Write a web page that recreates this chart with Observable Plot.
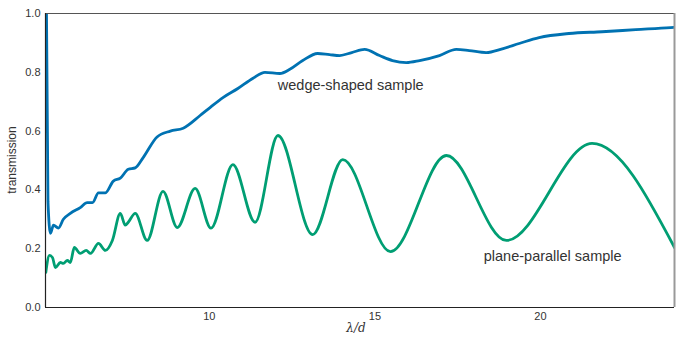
<!DOCTYPE html>
<html>
<head>
<meta charset="utf-8">
<script src="https://cdn.jsdelivr.net/npm/d3@7"></script>
<script src="https://cdn.jsdelivr.net/npm/@observablehq/plot@0.6"></script>
<style>
  html, body { margin: 0; padding: 0; background: #fff; }
  #chart { width: 676px; height: 339px; }
</style>
</head>
<body>
<div id="chart"></div>
<script>
// wedge-shaped sample: lambda/d and transmission
const wedgeX = [5.08, 5.125, 5.20, 5.29, 5.44, 5.59, 5.80, 6.10, 6.31, 6.47, 6.65, 6.86, 7.10, 7.31, 7.55, 7.76, 8.00, 8.42, 8.82, 9.21, 9.72, 10.02, 10.41, 10.86, 11.32, 11.68, 12.13, 12.43, 12.82, 13.27, 13.63, 13.94, 14.30, 14.69, 15.14, 15.53, 15.95, 16.35, 16.95, 17.46, 17.85, 18.36, 18.85, 19.36, 19.96, 20.86, 21.86, 22.88, 23.93, 24.05];
const wedgeY = [1.0, 0.36, 0.252, 0.28, 0.27, 0.30, 0.32, 0.34, 0.357, 0.357, 0.39, 0.39, 0.43, 0.44, 0.47, 0.475, 0.51, 0.58, 0.60, 0.61, 0.653, 0.68, 0.714, 0.745, 0.78, 0.80, 0.796, 0.81, 0.84, 0.864, 0.86, 0.857, 0.867, 0.878, 0.857, 0.84, 0.833, 0.84, 0.857, 0.878, 0.874, 0.867, 0.88, 0.898, 0.918, 0.932, 0.938, 0.945, 0.952, 0.953];

// plane-parallel sample
const planeX = [5.06, 5.17, 5.26, 5.35, 5.50, 5.59, 5.71, 5.80, 5.92, 6.10, 6.28, 6.41, 6.65, 6.86, 7.07, 7.31, 7.46, 7.55, 7.76, 8.12, 8.60, 9.03, 9.57, 10.05, 10.71, 11.38, 12.07, 13.12, 14.03, 15.47, 17.16, 18.97, 21.56, 24.05];
const planeY = [0.12, 0.177, 0.17, 0.136, 0.153, 0.15, 0.16, 0.153, 0.204, 0.184, 0.194, 0.184, 0.218, 0.194, 0.228, 0.32, 0.28, 0.29, 0.32, 0.228, 0.395, 0.272, 0.405, 0.27, 0.486, 0.29, 0.585, 0.248, 0.503, 0.19, 0.517, 0.228, 0.558, 0.204];

const xTicks = [10, 15, 20];
const yTicks = [0.0, 0.2, 0.4, 0.6, 0.8, 1.0];
const labels = [
  {x: 14.27, y: 0.755, text: "wedge-shaped sample"},
  {x: 20.37, y: 0.173, text: "plane-parallel sample"}
];

const wedge = wedgeX.map((x, i) => ({x, y: wedgeY[i]}));
const plane = planeX.map((x, i) => ({x, y: planeY[i]}));

const chart = Plot.plot({
  width: 676,
  height: 339,
  marginLeft: 45,
  marginRight: 2,
  marginTop: 13,
  marginBottom: 32,
  style: {fontFamily: "'Liberation Sans', Arial, sans-serif", fontSize: "11px", color: "#333", background: "#fff"},
  x: {domain: [5.05, 24.05], ticks: xTicks, tickSize: 0, tickPadding: 5, label: null},
  y: {domain: [0, 1], ticks: yTicks, tickSize: 0, tickPadding: 5, tickFormat: d3.format(".1f"), label: null},
  marks: [
    Plot.line(plane, {x: "x", y: "y", stroke: "#009E73", strokeWidth: 2.8, curve: "monotone-x", clip: true}),
    Plot.line(wedge, {x: "x", y: "y", stroke: "#0072B2", strokeWidth: 2.8, curve: "monotone-x", clip: true}),
    Plot.ruleY([1], {stroke: "#555", strokeWidth: 1}),
    Plot.ruleX([24.05], {stroke: "#999", strokeWidth: 2}),
    Plot.ruleY([0], {stroke: "#222", strokeWidth: 1.2}),
    Plot.ruleX([5.05], {stroke: "#222", strokeWidth: 1.2}),
    Plot.axisX({ticks: xTicks, tickSize: 0, tickPadding: 5, label: null, fill: "#333"}),
    Plot.axisY({ticks: yTicks, tickSize: 0, tickPadding: 5, tickFormat: d3.format(".1f"), label: null, fill: "#333"}),
    Plot.text(labels, {x: "x", y: "y", text: "text", fontSize: 14.5, fill: "#333"})
  ]
});

const svg = d3.select(chart);
svg.append("text")
  .attr("transform", "translate(13,160) rotate(-90)")
  .attr("text-anchor", "middle")
  .attr("dominant-baseline", "middle")
  .attr("font-size", 12)
  .attr("fill", "#333")
  .text("transmission");
svg.append("text")
  .attr("x", 356)
  .attr("y", 332)
  .attr("text-anchor", "middle")
  .attr("font-family", "'DejaVu Serif', 'Liberation Serif', serif")
  .attr("font-style", "italic")
  .attr("font-size", 12)
  .attr("fill", "#333")
  .text("λ/d");

document.getElementById("chart").appendChild(chart);
</script>
</body>
</html>
